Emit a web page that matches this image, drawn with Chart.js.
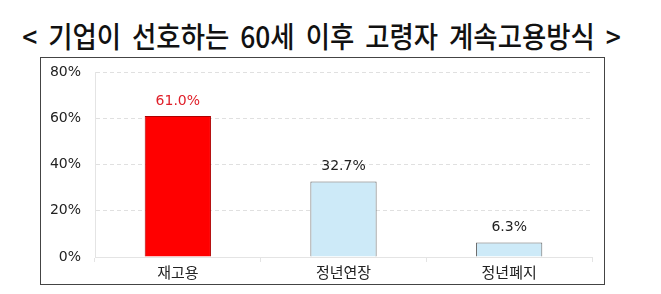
<!DOCTYPE html>
<html lang="ko">
<head>
  <meta charset="UTF-8">
  <title>기업이 선호하는 60세 이후 고령자 계속고용방식</title>
  <script src="https://cdn.jsdelivr.net/npm/chart.js"></script>
  <style>
    body {
      margin: 0;
      width: 661px;
      height: 294px;
      background: #fff;
      position: relative;
      overflow: hidden;
      font-family: "Noto Sans CJK KR", sans-serif;
    }
    .title {
      position: absolute;
      left: -9px;
      top: 14px;
      width: 661px;
      text-align: center;
      font-size: 29px;
      font-weight: 500;
      color: #111;
      white-space: nowrap;
      transform: scaleX(0.91);
      word-spacing: 4px;
    }
    .box {
      position: absolute;
      left: 40px;
      top: 57px;
      width: 563px;
      height: 226px;
      border: 1.5px solid #444;
    }
  </style>
</head>
<body>
  <div class="title">&lt; 기업이 선호하는 60세 이후 고령자 계속고용방식 &gt;</div>
  <div class="box">
    <canvas id="chart" width="563" height="226"></canvas>
  </div>

  <script>
    const categories = ['재고용', '정년연장', '정년폐지'];
    const values = [61.0, 32.7, 6.3];
    const yTicks = [0, 20, 40, 60, 80];

    const barColors = ['#ff0000', '#cdeaf8', '#cdeaf8'];
    const barBorders = ['#b00000', '#666666', '#666666'];
    const labelColors = ['#e0202a', '#222222', '#222222'];

    const numFont = '"DejaVu Sans", "Noto Sans CJK KR", sans-serif';

    // values drawn above each bar
    const valueLabels = {
      id: 'valueLabels',
      afterDatasetsDraw(chart) {
        const ctx = chart.ctx;
        const meta = chart.getDatasetMeta(0);
        ctx.save();
        ctx.font = '14px ' + numFont;
        ctx.textAlign = 'center';
        ctx.textBaseline = 'middle';
        meta.data.forEach((bar, i) => {
          ctx.fillStyle = labelColors[i];
          ctx.fillText(values[i].toFixed(1) + '%', bar.x, bar.y - 15);
        });
        ctx.restore();
      }
    };

    new Chart(document.getElementById('chart'), {
      type: 'bar',
      data: {
        labels: categories,
        datasets: [{
          data: values,
          backgroundColor: barColors,
          borderColor: barBorders,
          borderWidth: 1,
          barPercentage: 0.4,
          categoryPercentage: 1.0
        }]
      },
      options: {
        responsive: false,
        animation: false,
        layout: { padding: { top: 14, right: 12, bottom: 2, left: 0 } },
        plugins: {
          legend: { display: false },
          tooltip: { enabled: false }
        },
        scales: {
          x: {
            grid: {
              offset: true,
              drawOnChartArea: false,
              color: '#e4e4e4',
              tickLength: 5
            },
            border: { color: '#e4e4e4' },
            ticks: {
              color: '#222',
              font: { family: '"Noto Sans CJK KR", sans-serif', size: 15 },
              padding: 1
            }
          },
          y: {
            min: 0,
            max: 80,
            afterFit(scale) {
              scale.width = 54;
              scale.paddingTop = 0;
            },
            afterBuildTicks(scale) { scale.ticks = yTicks.map(v => ({ value: v })); },
            grid: { color: '#e0e0e0', drawTicks: false },
            border: { color: '#e4e4e4', dash: [4, 3] },
            ticks: {
              color: '#222',
              padding: 14,
              font: { family: numFont, size: 14 },
              callback: v => v + '%'
            }
          }
        }
      },
      plugins: [valueLabels]
    });
  </script>
</body>
</html>
